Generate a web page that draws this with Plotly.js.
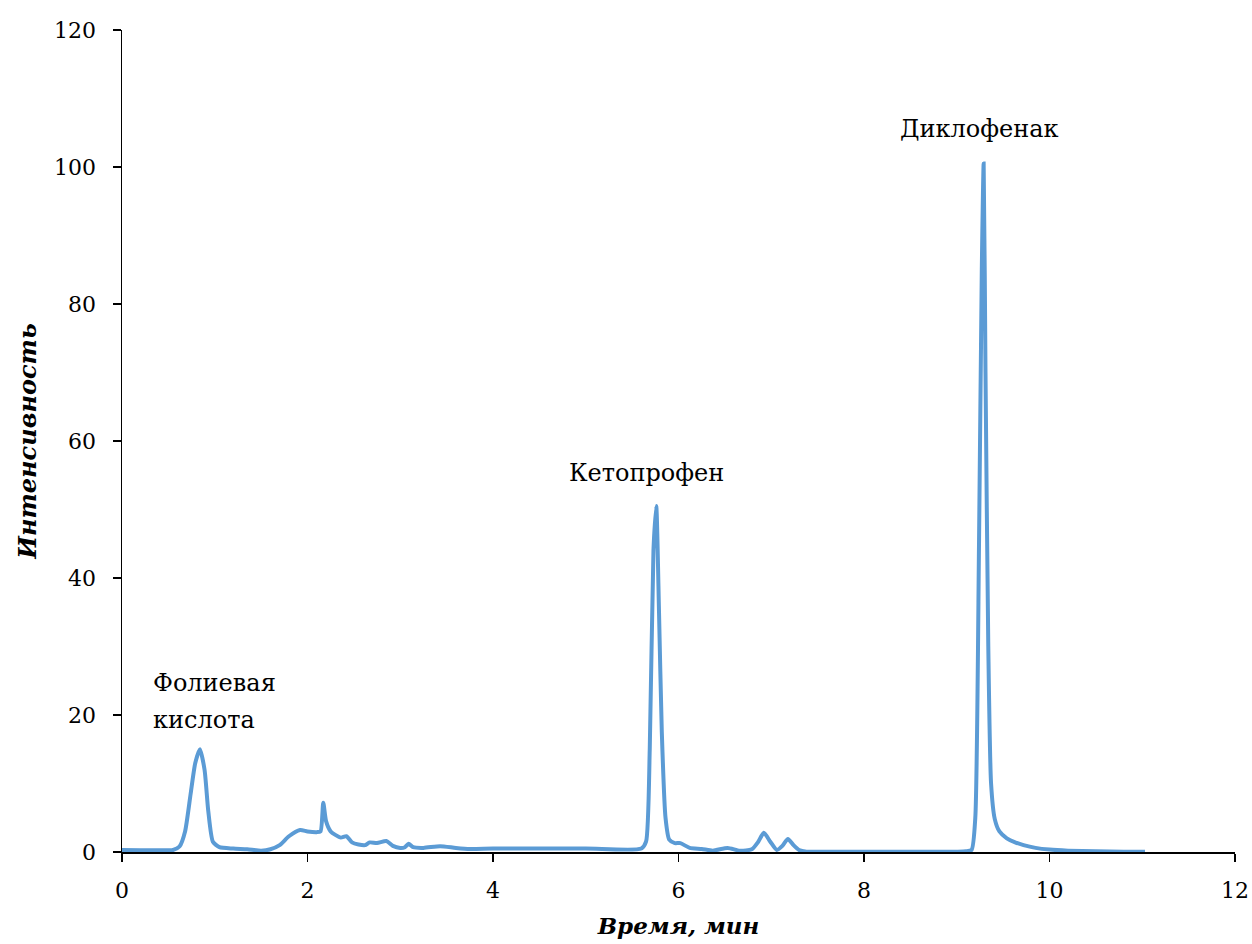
<!DOCTYPE html>
<html>
<head>
<meta charset="utf-8">
<script src="https://cdn.plot.ly/plotly-3.0.1.min.js"></script>
<style>html,body{margin:0;padding:0;background:#fff;}#chart{width:1252px;height:944px;}</style>
</head>
<body>
<div id="chart"></div>
<script>
const timeMin = [0, 0.2, 0.4, 0.55, 0.62, 0.68, 0.74, 0.79, 0.84, 0.89, 0.93, 0.98, 1.05, 1.2, 1.35, 1.5, 1.6, 1.7, 1.8, 1.92, 2.0, 2.1, 2.14, 2.17, 2.2, 2.25, 2.3, 2.36, 2.42, 2.48, 2.55, 2.62, 2.67, 2.75, 2.85, 2.92, 3.0, 3.05, 3.09, 3.14, 3.25, 3.43, 3.6, 3.75, 4.0, 5.0, 5.6, 5.65, 5.69, 5.73, 5.76, 5.79, 5.82, 5.86, 5.9, 5.96, 6.02, 6.12, 6.25, 6.37, 6.53, 6.66, 6.79, 6.86, 6.92, 6.99, 7.06, 7.12, 7.18, 7.24, 7.3, 7.38, 7.6, 8.5, 9.0, 9.1, 9.16, 9.2, 9.24, 9.27, 9.29, 9.31, 9.34, 9.37, 9.41, 9.46, 9.54, 9.63, 9.72, 9.85, 10.0, 10.2, 10.5, 10.8, 11.03];
const intensity = [0.3, 0.25, 0.25, 0.3, 0.8, 3, 8.5, 13, 15, 12, 6, 1.5, 0.7, 0.5, 0.4, 0.2, 0.4, 1, 2.3, 3.2, 3.0, 2.9, 3.0, 7.2, 4.5, 3.0, 2.5, 2.1, 2.3, 1.4, 1.1, 1.0, 1.4, 1.3, 1.6, 0.9, 0.6, 0.7, 1.2, 0.7, 0.6, 0.85, 0.6, 0.45, 0.5, 0.5, 0.5, 1.5, 15, 44, 50.5, 35, 17.5, 5, 1.8, 1.3, 1.3, 0.6, 0.45, 0.2, 0.6, 0.2, 0.4, 1.5, 2.8, 1.5, 0.3, 0.9, 1.9, 1.0, 0.3, 0.05, 0.05, 0.05, 0.05, 0.1, 0.3, 5, 45, 85, 100.5, 70, 30, 10, 4.8, 3.0, 2.0, 1.4, 1.0, 0.6, 0.35, 0.2, 0.1, 0.05, 0.05];

const peakLabels = ["Фолиевая", "кислота", "Кетопрофен", "Диклофенак"];
const peakLabelX = [0.33, 0.33, 5.66, 9.25];
const peakLabelY = [24.6, 19.3, 55.3, 105.6];
const peakLabelAnchor = ["left", "left", "center", "center"];

const serif = "DejaVu Serif";

const trace = {
  x: timeMin, y: intensity, type: "scatter", mode: "lines",
  line: {color: "#5B9BD5", width: 4, shape: "spline", smoothing: 0.6},
  hoverinfo: "skip"
};

const annotations = peakLabels.map((t, i) => ({
  x: peakLabelX[i], y: peakLabelY[i], xref: "x", yref: "y",
  text: t, showarrow: false, xanchor: peakLabelAnchor[i], yanchor: "middle",
  xshift: peakLabelAnchor[i] === "left" ? -2 : 0,
  font: {family: serif, size: 24, color: "#000"}
}));

const layout = {
  width: 1252, height: 944,
  margin: {l: 122, r: 17, t: 30, b: 92, pad: 0},
  paper_bgcolor: "#fff", plot_bgcolor: "#fff",
  showlegend: false,
  font: {family: serif, size: 22, color: "#000"},
  xaxis: {
    range: [0, 12], tickvals: [0,2,4,6,8,10,12], ticktext: ["0","2","4","6","8","10","12"],
    showgrid: false, zeroline: false, showline: true, linecolor: "#000", linewidth: 1.5,
    ticks: "outside", ticklen: 8, tickwidth: 1.5, tickcolor: "#000", ticklabelstandoff: 10,
    tickfont: {family: serif, size: 22, color: "#000"},
    title: {text: "<b><i>Время, мин</i></b>", font: {family: serif, size: 23, color: "#000"}, standoff: 16}
  },
  yaxis: {
    range: [0, 120], tickvals: [0,20,40,60,80,100,120], ticktext: ["0","20","40","60","80","100","120"],
    showgrid: false, zeroline: false, showline: true, linecolor: "#000", linewidth: 1.5,
    ticks: "outside", ticklen: 8, tickwidth: 1.5, tickcolor: "#000", ticklabelstandoff: 12,
    tickfont: {family: serif, size: 22, color: "#000"},
    title: {text: "<b><i>Интенсивность</i></b>", font: {family: serif, size: 24, color: "#000"}, standoff: 10}
  },
  annotations: annotations
};

Plotly.newPlot("chart", [trace], layout, {staticPlot: true, displayModeBar: false});
</script>
</body>
</html>
